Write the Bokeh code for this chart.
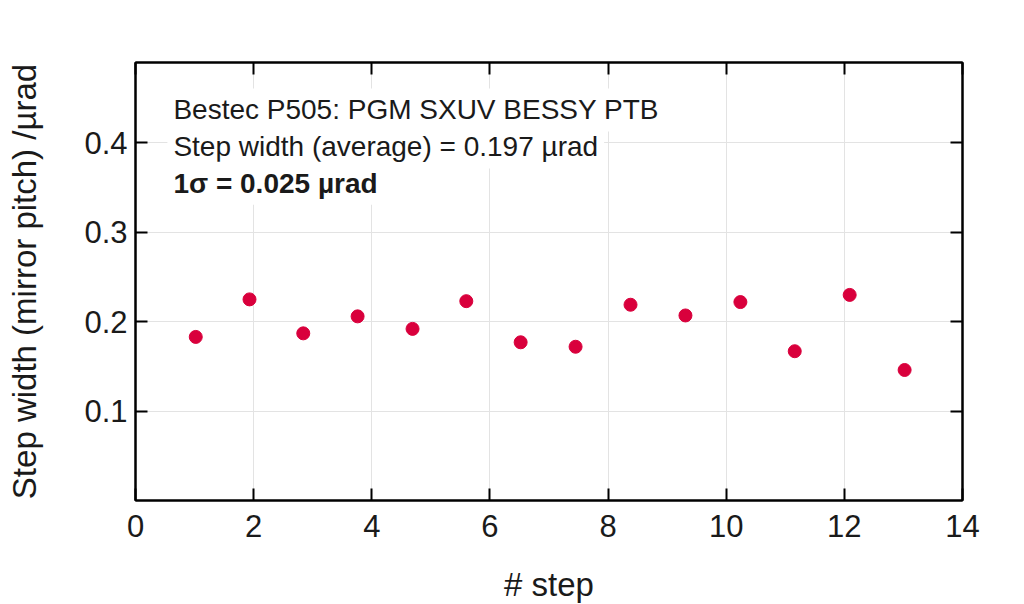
from bokeh.plotting import figure
from bokeh.models import Label, LinearAxis, FixedTicker, Range1d
from bokeh.embed import file_html
from bokeh.resources import INLINE

steps = [1.02, 1.93, 2.84, 3.76, 4.69, 5.60, 6.52, 7.45, 8.38, 9.31, 10.24, 11.16, 12.09, 13.02]
widths = [0.183, 0.225, 0.187, 0.206, 0.192, 0.223, 0.177, 0.172, 0.219, 0.207, 0.222, 0.167, 0.230, 0.146]
x_ticks = [0, 2, 4, 6, 8, 10, 12, 14]
y_ticks = [0.1, 0.2, 0.3, 0.4]
info_lines = ["Bestec P505: PGM SXUV BESSY PTB", "Step width (average) = 0.197 µrad", "1σ = 0.025 µrad"]

FONT = "Liberation Sans"

p = figure(width=1016, height=588, output_backend="svg", toolbar_location=None,
           x_range=Range1d(0, 14), y_range=Range1d(0, 0.49),
           frame_width=827, frame_height=438,
           min_border_left=135, min_border_top=62, min_border_right=54, min_border_bottom=88)

p.outline_line_color = "black"
p.outline_line_width = 2
p.background_fill_color = "white"

for ax in [p.xaxis[0], p.yaxis[0]]:
    ax.major_tick_in = 12
    ax.major_tick_out = 0
    ax.minor_tick_line_color = None
    ax.axis_line_width = 2
    ax.major_tick_line_width = 2
    ax.major_label_text_font = FONT
    ax.major_label_text_font_size = "31px"
    ax.major_label_text_color = "#1a1a1a"
    ax.axis_label_text_font = FONT
    ax.axis_label_text_font_size = "33px"
    ax.axis_label_text_font_style = "normal"
    ax.axis_label_text_color = "#1a1a1a"

p.xaxis.ticker = FixedTicker(ticks=x_ticks)
p.yaxis.ticker = FixedTicker(ticks=y_ticks)
p.xaxis.axis_label = "# step"
p.yaxis.axis_label = "Step width (mirror pitch) /µrad"
p.xaxis.major_label_standoff = 14
p.xaxis.axis_label_standoff = 26
p.yaxis.major_label_standoff = 8
p.yaxis.axis_label_standoff = 38

top = LinearAxis(ticker=FixedTicker(ticks=x_ticks), major_label_text_font_size="0px",
                 major_tick_in=12, major_tick_out=0, minor_tick_line_color=None,
                 axis_line_width=2, major_tick_line_width=2)
right = LinearAxis(ticker=FixedTicker(ticks=y_ticks), major_label_text_font_size="0px",
                   major_tick_in=12, major_tick_out=0, minor_tick_line_color=None,
                   axis_line_width=2, major_tick_line_width=2)
top.major_label_overrides = {t: "" for t in x_ticks}
right.major_label_overrides = {t: "" for t in y_ticks}
p.add_layout(top, "above")
p.add_layout(right, "right")

p.xgrid.ticker = FixedTicker(ticks=x_ticks)
p.ygrid.ticker = FixedTicker(ticks=y_ticks)
p.grid.grid_line_color = "#e3e3e3"
p.grid.grid_line_width = 1

p.scatter(steps, widths, size=13, color="#d9003c", line_color="#d9003c")

ys = [0.437, 0.3955, 0.355]
styles = ["normal", "normal", "bold"]
for txt, yy, st in zip(info_lines, ys, styles):
    p.add_layout(Label(x=0.54, y=yy, text=txt, text_font=FONT, text_font_size="28px",
                       text_font_style=st, text_color="#1a1a1a", text_baseline="middle",
                       background_fill_color="white", background_fill_alpha=1.0,
                       padding=6))

open("out.html", "w").write(file_html(p, INLINE))
